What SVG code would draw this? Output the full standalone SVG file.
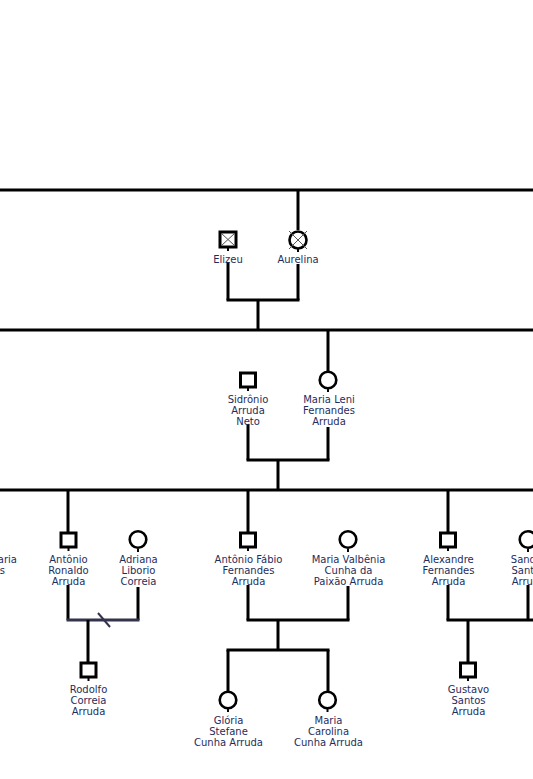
<svg xmlns="http://www.w3.org/2000/svg" width="533" height="779" viewBox="0 0 533 779">
<style>
.ln{stroke:#000;stroke-width:3;fill:none}
.stub{stroke:#000;stroke-width:2;fill:none}
.sq{fill:#fff;stroke:#000;stroke-width:3}
.ci{fill:#fff;stroke:#000;stroke-width:2.6}
.x{stroke:#555;stroke-width:1;fill:none}
.t{font-family:"DejaVu Sans",Verdana,sans-serif;font-size:10px;fill:#1f2d5c;text-anchor:middle}
</style>
<rect width="533" height="779" fill="#fff"/>
<g id="connectors">
<line class="ln" x1="0" y1="190" x2="533" y2="190"/>
<line class="ln" x1="298" y1="190" x2="298" y2="230"/>
<line class="ln" x1="228" y1="262" x2="228" y2="300"/>
<line class="ln" x1="298" y1="264" x2="298" y2="300"/>
<line class="ln" x1="226.5" y1="300" x2="299.5" y2="300"/>
<line class="ln" x1="258" y1="300" x2="258" y2="330"/>
<line class="ln" x1="0" y1="330" x2="533" y2="330"/>
<line class="ln" x1="328" y1="330" x2="328" y2="371"/>
<line class="ln" x1="248" y1="424" x2="248" y2="460"/>
<line class="ln" x1="328" y1="427" x2="328" y2="460"/>
<line class="ln" x1="246.5" y1="460" x2="329.5" y2="460"/>
<line class="ln" x1="278" y1="460" x2="278" y2="490"/>
<line class="ln" x1="0" y1="490" x2="533" y2="490"/>
<line class="ln" x1="68" y1="490" x2="68" y2="532"/>
<line class="ln" x1="248" y1="490" x2="248" y2="532"/>
<line class="ln" x1="448" y1="490" x2="448" y2="532"/>
<line class="ln" x1="68" y1="585" x2="68" y2="620"/>
<line class="ln" x1="138" y1="587" x2="138" y2="620"/>
<line x1="66.5" y1="620" x2="139.5" y2="620" stroke="#33334d" stroke-width="3"/>
<line x1="98" y1="613" x2="110" y2="627" stroke="#33334d" stroke-width="2"/>
<line class="ln" x1="88" y1="620" x2="88" y2="662"/>
<line class="ln" x1="248" y1="585" x2="248" y2="620"/>
<line class="ln" x1="348" y1="586" x2="348" y2="620"/>
<line class="ln" x1="246.5" y1="620" x2="349.5" y2="620"/>
<line class="ln" x1="278" y1="620" x2="278" y2="650"/>
<line class="ln" x1="226.5" y1="650" x2="329.5" y2="650"/>
<line class="ln" x1="228" y1="650" x2="228" y2="691"/>
<line class="ln" x1="328" y1="650" x2="328" y2="691"/>
<line class="ln" x1="448" y1="585" x2="448" y2="620"/>
<line class="ln" x1="528" y1="585" x2="528" y2="620"/>
<line class="ln" x1="446.5" y1="620" x2="533" y2="620"/>
<line class="ln" x1="468" y1="620" x2="468" y2="662"/>
</g>
<g id="elizeu">
<rect class="sq" x="220" y="232" width="16" height="15"/>
<path class="x" d="M221.5 233.5L234.5 245.5M234.5 233.5L221.5 245.5"/>
<line class="stub" x1="228" y1="248" x2="228" y2="251"/>
<text class="t" x="228" y="263">Elizeu</text>
</g>
<g id="aurelina">
<circle class="ci" cx="298" cy="240" r="8.5"/>
<path class="x" d="M289 231L307 249M307 231L289 249"/>
<line class="stub" x1="298" y1="249" x2="298" y2="252"/>
<text class="t" x="298" y="263">Aurelina</text>
</g>
<g id="sidronio">
<rect class="sq" x="240.5" y="373" width="15" height="14"/>
<line class="stub" x1="248" y1="388" x2="248" y2="391"/>
<text class="t" x="248" y="403">Sidrônio</text>
<text class="t" x="248" y="414">Arruda</text>
<text class="t" x="248" y="425">Neto</text>
</g>
<g id="maria-leni">
<circle class="ci" cx="328" cy="380" r="8.3"/>
<line class="stub" x1="328" y1="389" x2="328" y2="392"/>
<text class="t" x="329" y="403">Maria Leni</text>
<text class="t" x="329" y="414">Fernandes</text>
<text class="t" x="329" y="425">Arruda</text>
</g>
<g id="left-partial">
<text class="t" x="17" y="563" style="text-anchor:end">aria</text>
<text class="t" x="5" y="574" style="text-anchor:end">s</text>
</g>
<g id="antonio-ronaldo">
<rect class="sq" x="61" y="533" width="15" height="14"/>
<line class="stub" x1="68.5" y1="548" x2="68.5" y2="551"/>
<text class="t" x="68.5" y="563">Antônio</text>
<text class="t" x="68.5" y="574">Ronaldo</text>
<text class="t" x="68.5" y="585">Arruda</text>
</g>
<g id="adriana">
<circle class="ci" cx="138" cy="539.5" r="8.3"/>
<line class="stub" x1="138" y1="549" x2="138" y2="552"/>
<text class="t" x="138.5" y="563">Adriana</text>
<text class="t" x="138.5" y="574">Liborio</text>
<text class="t" x="138.5" y="585">Correia</text>
</g>
<g id="rodolfo">
<rect class="sq" x="81" y="663" width="15" height="14"/>
<line class="stub" x1="88.5" y1="678" x2="88.5" y2="681"/>
<text class="t" x="88.5" y="693">Rodolfo</text>
<text class="t" x="88.5" y="704">Correia</text>
<text class="t" x="88.5" y="715">Arruda</text>
</g>
<g id="antonio-fabio">
<rect class="sq" x="240.5" y="533" width="15" height="14"/>
<line class="stub" x1="248" y1="548" x2="248" y2="551"/>
<text class="t" x="248.5" y="563">Antônio Fábio</text>
<text class="t" x="248.5" y="574">Fernandes</text>
<text class="t" x="248.5" y="585">Arruda</text>
</g>
<g id="maria-valbenia">
<circle class="ci" cx="348" cy="539.5" r="8.3"/>
<line class="stub" x1="348" y1="549" x2="348" y2="552"/>
<text class="t" x="348.5" y="563">Maria Valbênia</text>
<text class="t" x="348.5" y="574">Cunha da</text>
<text class="t" x="348.5" y="585">Paixão Arruda</text>
</g>
<g id="gloria">
<circle class="ci" cx="228" cy="700" r="8.3"/>
<line class="stub" x1="228" y1="709" x2="228" y2="712"/>
<text class="t" x="228.5" y="723.5">Glória</text>
<text class="t" x="228.5" y="734.5">Stefane</text>
<text class="t" x="228.5" y="745.5">Cunha Arruda</text>
</g>
<g id="maria-carolina">
<circle class="ci" cx="327.5" cy="700" r="8.3"/>
<line class="stub" x1="327.5" y1="709" x2="327.5" y2="712"/>
<text class="t" x="328.5" y="723.5">Maria</text>
<text class="t" x="328.5" y="734.5">Carolina</text>
<text class="t" x="328.5" y="745.5">Cunha Arruda</text>
</g>
<g id="alexandre">
<rect class="sq" x="440.5" y="533" width="15" height="14"/>
<line class="stub" x1="448" y1="548" x2="448" y2="551"/>
<text class="t" x="448.5" y="563">Alexandre</text>
<text class="t" x="448.5" y="574">Fernandes</text>
<text class="t" x="448.5" y="585">Arruda</text>
</g>
<g id="sandra">
<circle class="ci" cx="528" cy="539.5" r="8.3"/>
<line class="stub" x1="528" y1="549" x2="528" y2="552"/>
<text class="t" x="528.5" y="563">Sandra</text>
<text class="t" x="528.5" y="574">Santos</text>
<text class="t" x="528.5" y="585">Arruda</text>
</g>
<g id="gustavo">
<rect class="sq" x="460.5" y="663" width="15" height="14"/>
<line class="stub" x1="468" y1="678" x2="468" y2="681"/>
<text class="t" x="468.5" y="693">Gustavo</text>
<text class="t" x="468.5" y="704">Santos</text>
<text class="t" x="468.5" y="715">Arruda</text>
</g>
</svg>
